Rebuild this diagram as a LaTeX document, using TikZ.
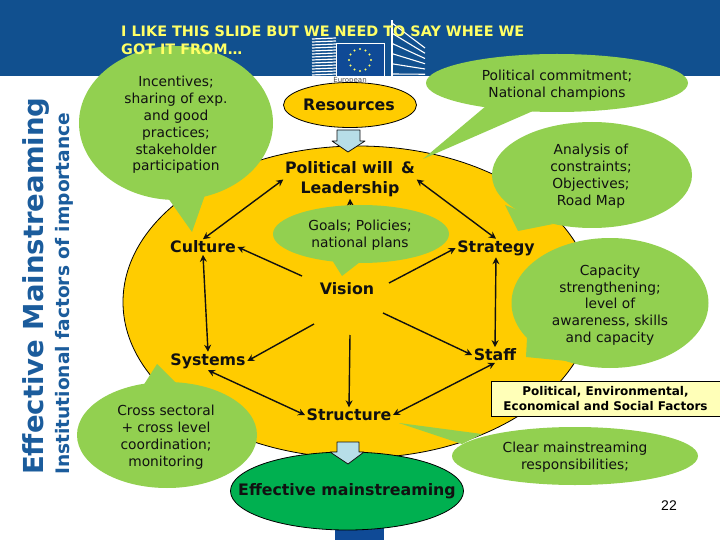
\documentclass[tikz,border=0pt]{standalone}
\usepackage{fontspec}
\setmainfont{DejaVu Sans}
\usetikzlibrary{arrows.meta,shapes.geometric,calc}
\definecolor{band}{HTML}{11508F}
\definecolor{flagblue}{HTML}{0F4A96}
\definecolor{callgreen}{HTML}{92D050}
\definecolor{sun}{HTML}{FFCC00}
\definecolor{deepgreen}{HTML}{00B050}
\definecolor{pale}{HTML}{B7DEE8}
\definecolor{titley}{HTML}{FFFF66}
\definecolor{sideblue}{HTML}{1B5C9C}
\definecolor{boxy}{HTML}{FFFFB8}
\definecolor{ink}{HTML}{111111}
\tikzset{
 callout/.style={ellipse,fill=callgreen,draw=none,inner sep=0pt},
 tail/.style={fill=callgreen,draw=none},
 calltext/.style={align=center,text=ink,inner sep=0pt,font=\fontsize{13.8}{16.8}\selectfont},
 keyword/.style={font=\bfseries\fontsize{15.8}{20}\selectfont,align=center,text=ink,inner sep=1.5pt},
 link/.style={draw=ink,line width=1.4pt,-{Stealth[length=7pt,width=7pt]}},
 dlink/.style={draw=ink,line width=1.4pt,{Stealth[length=7pt,width=7pt]}-{Stealth[length=7pt,width=7pt]}},
 blockarrow/.style={fill=pale,draw=ink,line width=0.8pt,line join=round},
 oval/.style={ellipse,draw=black,line width=0.8pt,inner sep=0pt},
}
\begin{document}
\begin{tikzpicture}[x=1pt,y=-1pt]
\useasboundingbox (0,0) rectangle (720,540);
\fill[white] (0,0) rectangle (720,540);
% header band and logo
\fill[band] (0,0) rectangle (720,76);
\fill[flagblue] (335,525) rectangle (384,540);
\foreach \yy in {38,41,...,75} {\draw[white,line width=1.2pt] (312,\yy+1) -- (336,\yy);}
\foreach \yy in {0,3,...,15} {\draw[white,line width=1.1pt] (392,{23+\yy*3.4}) -- (425,{48+\yy*1.75});}
\draw[white,line width=1.2pt] (392,20) -- (392,76);
\fill[flagblue,draw=white,line width=0.8pt] (336,43) rectangle (384,76);
\foreach \a in {0,30,...,330} {\fill[titley] ({360+11*cos(\a)},{60+11*sin(\a)}) circle (1.1pt);}
\node[font=\fontsize{7}{8}\selectfont,text=black!70,inner sep=0pt] (eulabel) at (350,81) {European};
% main field
\node[oval,fill=sun,minimum width=470pt,minimum height=312pt] (field) at (358,302) {};
\node[oval,fill=sun,minimum width=133pt,minimum height=45pt] (resources) at (350,105) {};
% callouts
\node[callout,minimum width=194pt,minimum height=154pt] (c1) at (176,123) {};
\fill[tail] (168,198) -- (192,232) -- (205,195) -- cycle;
\node[callout,minimum width=262pt,minimum height=58pt] (c2) at (557,83) {};
\fill[tail] (486,106) -- (423,159) -- (533,111) -- cycle;
\node[callout,minimum width=200pt,minimum height=106pt] (c3) at (592,175) {};
\fill[tail] (505,205) -- (518,231) -- (553,224) -- cycle;
\node[callout,minimum width=197pt,minimum height=130pt] (c4) at (610,303) {};
\fill[tail] (527,338) -- (526,357) -- (567,361) -- cycle;
\node[callout,minimum width=180pt,minimum height=106pt] (c6) at (167,435) {};
\fill[tail] (143,386) -- (157,364) -- (178,385) -- cycle;
\node[callout,minimum width=246pt,minimum height=58pt] (c7) at (575,456) {};
\fill[tail] (482,434) -- (399,423) -- (462,444) -- cycle;
% keywords
\node[keyword] (polwill) at (350,179.5) {Political will \,\&\\Leadership};
\node[keyword] (culture) at (203,247) {Culture};
\node[keyword] (strategy) at (496,248) {Strategy};
\node[keyword] (vision) at (347,289) {Vision};
\node[keyword] (systems) at (208,361) {Systems};
\node[keyword] (staff) at (495,355) {Staff};
\node[keyword] (structure) at (349,415) {Structure};
\coordinate (v1) at (302,276);
\coordinate (v2) at (389,283);
\coordinate (v3) at (314,324);
\coordinate (v4) at (383,313);
\coordinate (v5) at (350,335);
\coordinate (v6) at (351,225);
% connectors
\draw[dlink] (culture.north) -- (polwill.west);
\draw[dlink] (polwill.east) -- (strategy.north);
\draw[dlink] (culture.south) -- (systems.north);
\draw[dlink] (strategy.south) -- (staff.north);
\draw[dlink] (systems.south) -- (structure.west);
\draw[dlink] (staff.south) -- (structure.east);
\draw[link] (v1) -- (culture.east);
\draw[link] (v2) -- (strategy.west);
\draw[link] (v3) -- (systems.east);
\draw[link] (v4) -- (staff.west);
\draw[link] (v5) -- (structure.north);
\draw[link] (v6) -- (polwill.south);
% goals callout covers the upward arrow
\node[callout,minimum width=176pt,minimum height=58pt] (c5) at (361,234) {};
\fill[tail] (332,260) -- (342,276) -- (360,262) -- cycle;
% block arrows and result
\filldraw[blockarrow] (337,130) -- (360,130) -- (360,141) -- (365,141) -- (348,152) -- (332,141) -- (337,141) -- cycle;
\node[oval,fill=deepgreen,minimum width=233pt,minimum height=78pt] (result) at (347,491) {};
\filldraw[blockarrow] (337,442) -- (359,442) -- (359,452) -- (364,452) -- (348,464) -- (330,452) -- (337,452) -- cycle;
\node[keyword] (reslabel) at (349,105) {Resources};
\node[keyword] (reslt) at (347,491) {Effective mainstreaming};
% callout texts
\node[calltext] at (176,125) {Incentives;\\sharing of exp.\\and good\\practices;\\stakeholder\\participation};
\node[calltext] at (557,85) {Political commitment;\\National champions};
\node[calltext] at (591,176) {Analysis of\\constraints;\\Objectives;\\Road Map};
\node[calltext] at (610,305) {Capacity\\strengthening;\\level of\\awareness, skills\\and capacity};
\node[calltext] at (360,235.5) {Goals; Policies;\\national plans};
\node[calltext] at (166,437) {Cross sectoral\\+ cross level\\coordination;\\monitoring};
\node[calltext] at (575,457) {Clear mainstreaming\\responsibilities;};
% factors box
\node[draw=black,line width=0.8pt,fill=boxy,minimum width=240pt,minimum height=35pt,inner sep=0pt,anchor=west] (factors) at (491,398.5) {};
\node[font=\bfseries\fontsize{12}{15}\selectfont,align=center,text=black,inner sep=0pt] at (605.5,399) {Political, Environmental,\\Economical and Social Factors};
% title and side labels
\node[anchor=north west,font=\bfseries\fontsize{14.4}{17.5}\selectfont,text=titley,align=left,inner sep=0pt] (title) at (121,26) {I LIKE THIS SLIDE BUT WE NEED TO SAY WHEE WE\\GOT IT FROM…};
\node[rotate=90,anchor=west,font=\bfseries\fontsize{27.5}{30}\selectfont,text=sideblue,inner sep=0pt] (side1) at (36,475) {Effective Mainstreaming};
\node[rotate=90,anchor=west,font=\bfseries\fontsize{18.6}{20}\selectfont,text=sideblue,inner sep=0pt] (side2) at (64,475) {Institutional factors of importance};
\node[font={\fontspec{Liberation Sans}\fontsize{14}{16}\selectfont},text=black,inner sep=0pt] (pagenum) at (669,506) {22};
\end{tikzpicture}
\end{document}
